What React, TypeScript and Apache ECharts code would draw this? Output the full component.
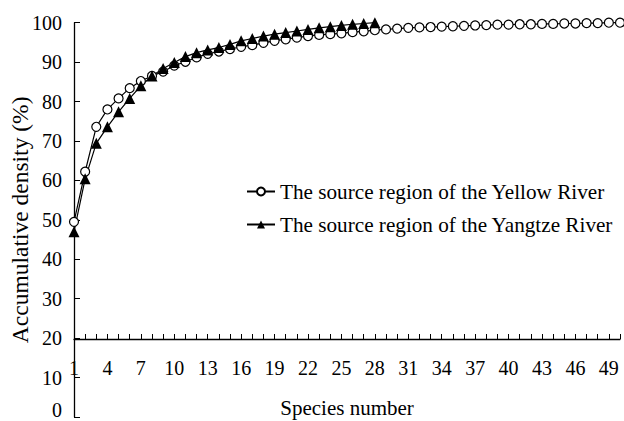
import React, { useEffect, useRef } from "react";
import * as echarts from "echarts";

const speciesNumbers: string[] = Array.from({ length: 50 }, (_, i) => String(i + 1));

const yellowRiver: number[] = [
  49.5, 62.2, 73.6, 78.0, 80.8, 83.4, 85.2, 86.5, 87.6, 89.1,
  90.1, 91.2, 92.1, 92.7, 93.3, 93.9, 94.3, 94.9, 95.4, 95.8,
  96.2, 96.6, 96.9, 97.1, 97.3, 97.6, 97.8, 98.1, 98.3, 98.5,
  98.7, 98.8, 98.9, 99.0, 99.1, 99.2, 99.3, 99.4, 99.5, 99.5,
  99.6, 99.6, 99.7, 99.7, 99.8, 99.8, 99.9, 99.9, 100.0, 100.0,
];

const yangtzeRiver: number[] = [
  47.0, 60.4, 69.4, 73.6, 77.4, 80.8, 84.0, 86.5, 88.4, 89.9,
  91.4, 92.4, 93.1, 93.7, 94.5, 95.4, 96.0, 96.6, 97.1, 97.5,
  97.9, 98.3, 98.7, 99.0, 99.3, 99.6, 99.8, 100.0,
];

const seriesNames: string[] = [
  "The source region of the Yellow River",
  "The source region of the Yangtze River",
];

const FONT = "'Liberation Serif', 'Times New Roman', serif";

export default function App() {
  const ref = useRef<HTMLDivElement>(null);

  useEffect(() => {
    if (!ref.current) return;
    const chart = echarts.init(ref.current, undefined, { renderer: "svg" });
    chart.setOption({
      animation: false,
      backgroundColor: "#ffffff",
      grid: {
        left: 74,
        right: 4,
        top: 22.7,
        bottom: 4,
        containLabel: false,
        outerBoundsMode: "none",
      },
      legend: {
        orient: "vertical",
        left: 241,
        top: 176,
        itemWidth: 28,
        itemHeight: 10,
        itemGap: 12,
        textStyle: { fontFamily: FONT, fontSize: 21.2, color: "#000" },
        data: seriesNames,
      },
      xAxis: {
        type: "category",
        data: speciesNumbers,
        boundaryGap: false,
        position: "bottom",
        offset: -78,
        name: "Species number",
        nameLocation: "middle",
        nameGap: 58,
        nameMoveOverlap: false,
        nameTextStyle: { fontFamily: FONT, fontSize: 21, color: "#000" },
        axisLine: { show: true, lineStyle: { color: "#000", width: 1.3 } },
        axisTick: { show: true, inside: true, length: 5, interval: 0, lineStyle: { color: "#000", width: 1 } },
        axisLabel: { interval: 2, margin: 19, fontFamily: FONT, fontSize: 20, color: "#000" },
        splitLine: { show: false },
      },
      yAxis: {
        type: "value",
        min: 0,
        max: 100,
        interval: 10,
        name: "Accumulative density (%)",
        nameLocation: "middle",
        nameGap: 42,
        nameMoveOverlap: false,
        nameTextStyle: { fontFamily: FONT, fontSize: 23.5, color: "#000" },
        axisLine: { show: true, lineStyle: { color: "#000", width: 1.3 } },
        axisTick: { show: true, inside: true, length: 6, lineStyle: { color: "#000" } },
        axisLabel: {
          margin: 12,
          fontFamily: FONT,
          fontSize: 20,
          color: "#000",
          formatter: (v: number) => (v === 0 ? "{z|0}" : String(v)),
          rich: {
            z: { fontFamily: FONT, fontSize: 20, color: "#000", padding: [0, 0, 14, 0] },
          },
        },
        splitLine: { show: false },
      },
      series: [
        {
          name: seriesNames[0],
          type: "line",
          data: yellowRiver,
          symbol: "circle",
          symbolSize: 9,
          showAllSymbol: true,
          lineStyle: { color: "#000", width: 1.2 },
          itemStyle: { color: "#fff", borderColor: "#000", borderWidth: 1.2 },
        },
        {
          name: seriesNames[1],
          type: "line",
          data: yangtzeRiver,
          symbol: "triangle",
          symbolSize: 11,
          showAllSymbol: true,
          lineStyle: { color: "#000", width: 1.2 },
          itemStyle: { color: "#000", borderColor: "#000", borderWidth: 0 },
        },
      ],
    });
    return () => chart.dispose();
  }, []);

  return <div ref={ref} style={{ width: 624, height: 421, position: "absolute", left: 0, top: 0 }} />;
}
